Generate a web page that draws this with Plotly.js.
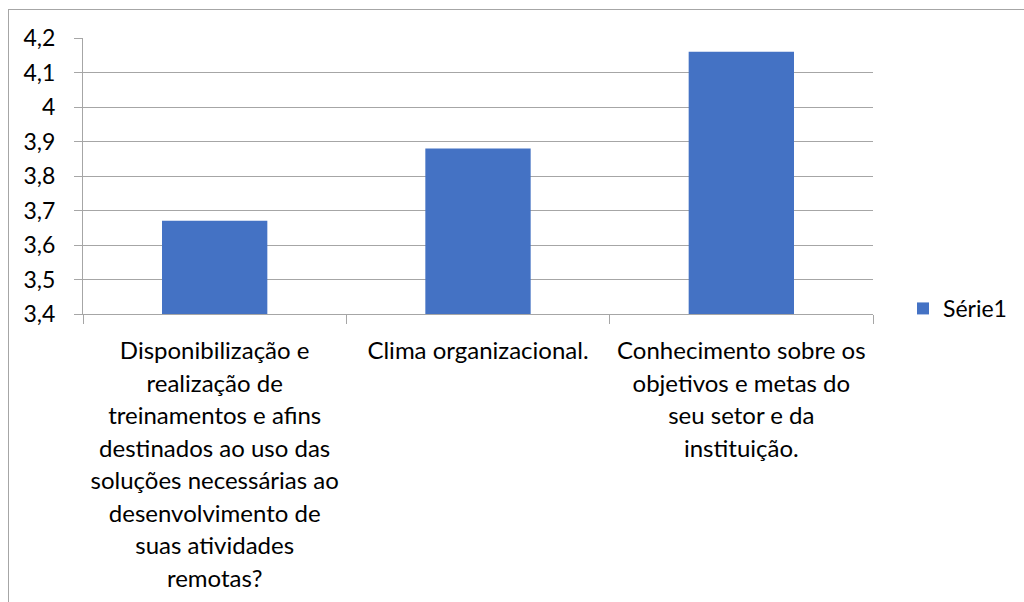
<!DOCTYPE html>
<html>
<head>
<meta charset="utf-8">
<script src="https://cdn.plot.ly/plotly-3.0.1.min.js"></script>
<style>
  html, body { margin: 0; padding: 0; background: #fff; }
  #wrap { position: relative; width: 1024px; height: 602px; overflow: hidden; }
  #chart { position: absolute; left: 0; top: 0; width: 1024px; height: 602px; }
  #frame { position: absolute; left: 8px; top: 9px; width: 1100px; height: 700px;
           border-top: 1px solid #a6a6a6; border-left: 1px solid #a6a6a6;
           pointer-events: none; z-index: 10; }
</style>
</head>
<body>
<div id="wrap">
  <div id="chart"></div>
  <div id="frame"></div>
</div>
<script>
// ---- data ----
const categories = [
  "Disponibilização e realização de treinamentos e afins destinados ao uso das soluções necessárias ao desenvolvimento de suas atividades remotas?",
  "Clima organizacional.",
  "Conhecimento sobre os objetivos e metas do seu setor e da instituição."
];
const tickLines = [
  ["Disponibilização e", "realização de", "treinamentos e afins", "destinados ao uso das",
   "soluções necessárias ao", "desenvolvimento de", "suas atividades", "remotas?"],
  ["Clima organizacional."],
  ["Conhecimento sobre os", "objetivos e metas do", "seu setor e da", "instituição."]
];
const values = [3.67, 3.88, 4.16];
const seriesName = "Série1";

// ---- styles ----
const FONT = "Lato, 'Open Sans', sans-serif";
const labelSize = 24;
const ticktext = tickLines.map(lines =>
  lines.map(l => '<span style="font-size:' + labelSize + 'px">' + l + '</span>').join('<br>'));

const trace = {
  type: 'bar',
  x: categories,
  y: values,
  name: seriesName,
  marker: { color: '#4472C4', line: { width: 0 } },
  showlegend: true,
  hoverinfo: 'x+y'
};

const layout = {
  width: 1024,
  height: 602,
  margin: { l: 83, r: 147, t: 38, b: 288, pad: 0 },
  paper_bgcolor: '#ffffff',
  plot_bgcolor: '#ffffff',
  separators: ', ',
  font: { family: FONT, color: '#000000', size: 22 },
  bargap: 0.6,
  showlegend: true,
  legend: {
    x: 1.038, xanchor: 'left',
    y: 0.02, yanchor: 'middle',
    font: { family: FONT, size: 23, color: '#000000' },
    bgcolor: 'rgba(0,0,0,0)',
    itemwidth: 30
  },
  xaxis: {
    type: 'category',
    tickmode: 'array',
    tickvals: categories,
    ticktext: ticktext,
    tickangle: 0,
    tickson: 'boundaries',
    ticks: 'outside',
    ticklen: 9,
    tickcolor: '#a6a6a6',
    tickwidth: 1,
    showline: true,
    linecolor: '#a6a6a6',
    linewidth: 1,
    showgrid: false,
    zeroline: false,
    ticklabelstandoff: 14,
    tickfont: { family: FONT, size: 25, color: '#000000' },
    automargin: false
  },
  yaxis: {
    range: [3.4, 4.2],
    tick0: 3.4,
    dtick: 0.1,
    ticks: 'outside',
    ticklen: 8,
    tickcolor: '#a6a6a6',
    tickwidth: 1,
    showline: true,
    linecolor: '#a6a6a6',
    linewidth: 1,
    showgrid: true,
    gridcolor: '#a6a6a6',
    gridwidth: 1,
    zeroline: false,
    ticklabelstandoff: 14,
    tickfont: { family: FONT, size: 23, color: '#000000' },
    automargin: false
  }
};

Plotly.newPlot('chart', [trace], layout, { staticPlot: true, displayModeBar: false });
</script>
</body>
</html>
